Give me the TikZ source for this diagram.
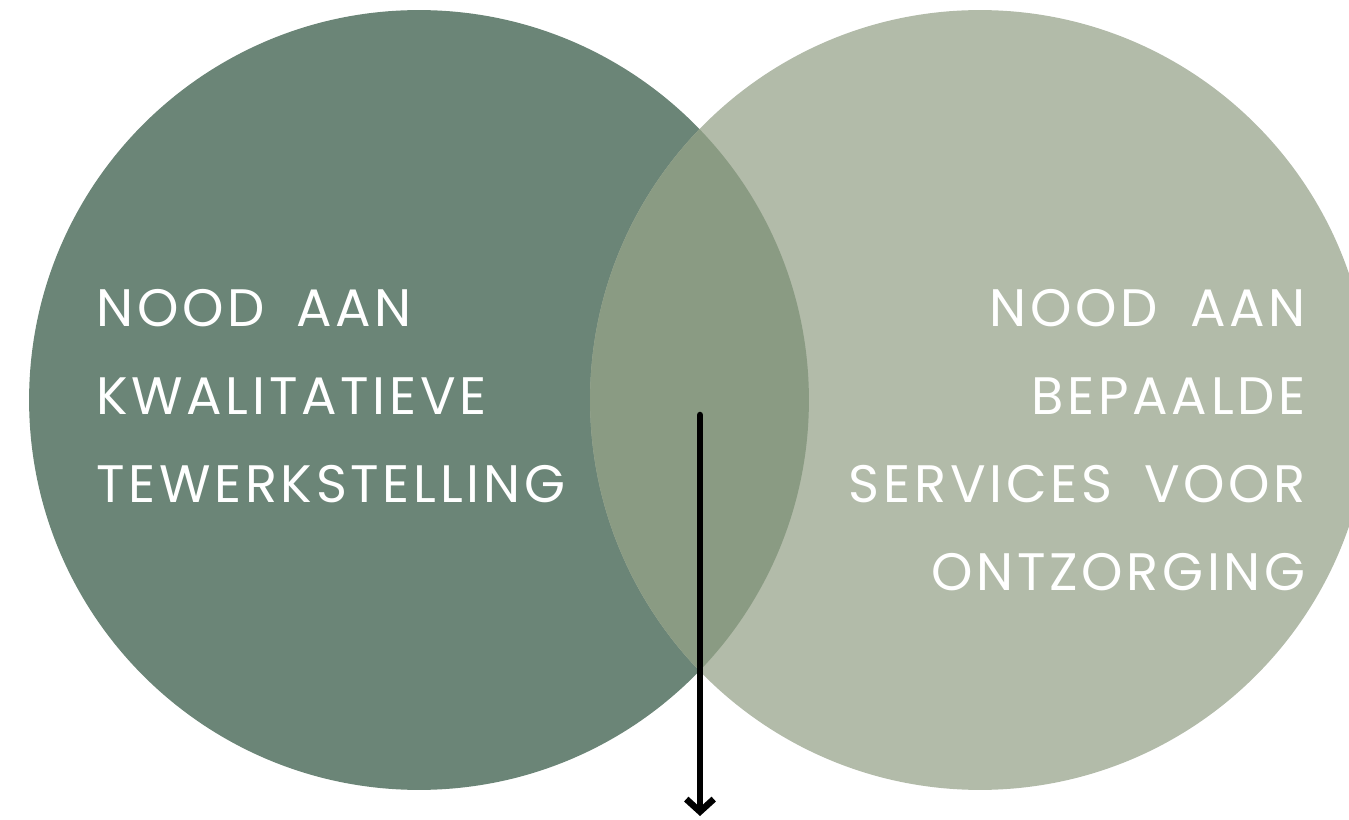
\documentclass[tikz,border=0pt]{standalone}
\usepackage{fontspec}
\setmainfont{Poppins}[LetterSpace=7, WordSpace=1.8]
\usetikzlibrary{arrows.meta}
\definecolor{darksage}{HTML}{6B8577}
\definecolor{lightsage}{HTML}{B2BBA9}
\definecolor{midsage}{HTML}{8A9B83}
\tikzstyle{venn} = [circle, minimum size=15.6cm, inner sep=0pt, draw=none]
\tikzstyle{label} = [text=white, font=\fontsize{30}{50}\selectfont, inner sep=0pt]

\begin{document}
\begin{tikzpicture}[x=0.02cm, y=-0.02cm]
    \useasboundingbox (0,0) rectangle (1349,820);
    \clip (0,0) rectangle (1349,820);
	\node (Left) at (419,400) [venn, fill=darksage] {};
	\node (Right) at (980,400) [venn, fill=lightsage] {};
	\begin{scope}
		\clip (419,400) circle (7.8cm);
		\fill[midsage] (980,400) circle (7.8cm);
	\end{scope}
	\node (Work) at (96,396) [label, anchor=west, align=left] {NOOD AAN\\KWALITATIEVE\\TEWERKSTELLING};
	\node (Care) at (1306,440) [label, anchor=east, align=right] {NOOD AAN\\BEPAALDE\\SERVICES VOOR\\ONTZORGING};
	\coordinate (Top) at (700,415);
	\coordinate (Bottom) at (700,816);
	\draw [-{Straight Barb[length=2.5mm, width=5.5mm]}, line width=3.7pt, line cap=round] (Top) -- (Bottom);
\end{tikzpicture}
\end{document}
